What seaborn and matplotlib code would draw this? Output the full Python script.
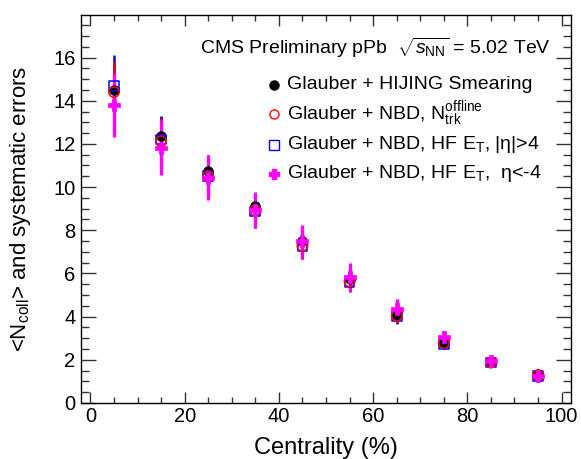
import matplotlib
matplotlib.use("Agg")
import matplotlib.pyplot as plt
import seaborn as sns
import pandas as pd
from matplotlib.ticker import MultipleLocator

# Centrality bins (bin centres, %)
centrality = [5, 15, 25, 35, 45, 55, 65, 75, 85, 95]

# <Ncoll> for each method and its systematic uncertainty
ncoll_hijing = [14.50, 12.35, 10.73, 9.14, 7.48, 5.74, 4.08, 2.80, 1.89, 1.35]
err_hijing = [1.10, 0.90, 0.75, 0.60, 0.50, 0.40, 0.30, 0.20, 0.13, 0.10]

ncoll_ntrk = [14.40, 12.12, 10.50, 8.92, 7.28, 5.63, 4.04, 2.78, 1.87, 1.28]
err_ntrk = [1.38, 1.10, 0.90, 0.75, 0.60, 0.45, 0.32, 0.22, 0.15, 0.10]

ncoll_hf = [14.67, 12.20, 10.50, 8.87, 7.25, 5.58, 4.00, 2.72, 1.87, 1.25]
err_hf = [1.43, 1.10, 0.96, 0.75, 0.60, 0.45, 0.32, 0.20, 0.13, 0.10]

ncoll_hfm = [13.82, 11.83, 10.43, 8.95, 7.48, 5.85, 4.35, 3.05, 1.95, 1.25]
err_hfm = [1.48, 1.26, 1.05, 0.83, 0.75, 0.65, 0.45, 0.25, 0.13, 0.10]

labels = [
    "Glauber + HIJING Smearing",
    r"Glauber + NBD, N$_{\mathrm{trk}}^{\mathrm{offline}}$",
    r"Glauber + NBD, HF E$_{\mathrm{T}}$, |η|>4",
    r"Glauber + NBD, HF E$_{\mathrm{T}}$,  η<-4",
]
header = r"CMS Preliminary pPb  $\sqrt{s_{\mathrm{NN}}}$ = 5.02 TeV"

sns.set_theme(style="ticks")
plt.rcParams["font.family"] = ["Liberation Sans", "DejaVu Sans"]
plt.rcParams["mathtext.fontset"] = "custom"
plt.rcParams["mathtext.rm"] = "Liberation Sans"
plt.rcParams["mathtext.it"] = "Liberation Sans:italic"
plt.rcParams["mathtext.bf"] = "Liberation Sans:bold"
plt.rcParams["text.color"] = "black"
plt.rcParams["axes.labelcolor"] = "black"

series = [
    (labels[0], ncoll_hijing, err_hijing, "black", "o", "black", 7.0),
    (labels[2], ncoll_hf, err_hf, "blue", "s", "none", 7.0),
    (labels[1], ncoll_ntrk, err_ntrk, "red", "o", "none", 7.5),
    (labels[3], ncoll_hfm, err_hfm, "magenta", "P", "magenta", 8.5),
]

frames = []
for name, vals, errs, *_ in series:
    frames.append(pd.DataFrame({"centrality": centrality, "ncoll": vals,
                                "err": errs, "method": name}))
df = pd.concat(frames, ignore_index=True)

fig = plt.figure(figsize=(5.81, 4.59), dpi=100)
ax = fig.add_axes([81 / 581, 56 / 459, 490 / 581, 388 / 459])

for z, (name, vals, errs, color, marker, face, ms) in enumerate(series):
    sub = df[df["method"] == name]
    ax.errorbar(sub["centrality"], sub["ncoll"], yerr=sub["err"], fmt="none",
                ecolor=color, elinewidth=1.8 if color != "magenta" else 2.4,
                capsize=0, zorder=2 + z)

for z, (name, vals, errs, color, marker, face, ms) in enumerate(series):
    sub = df[df["method"] == name]
    sns.scatterplot(data=sub, x="centrality", y="ncoll", ax=ax,
                    marker=marker, s=ms ** 2,
                    facecolor=face, edgecolor=color,
                    linewidth=1.1 if face == "none" else 0.5,
                    legend=False, zorder=10 + z)

ax.set_xlim(-2, 102)
ax.set_ylim(0, 17.97)
ax.xaxis.set_major_locator(MultipleLocator(20))
ax.xaxis.set_minor_locator(MultipleLocator(5))
ax.yaxis.set_major_locator(MultipleLocator(2))
ax.yaxis.set_minor_locator(MultipleLocator(0.5))
ax.tick_params(axis="both", which="both", direction="in",
               top=True, right=True, width=1.0, color="#333333",
               labelsize=14.5, labelcolor="black")
ax.tick_params(axis="y", which="major", length=11, pad=4)
ax.tick_params(axis="y", which="minor", length=5.5)
ax.tick_params(axis="x", which="major", length=8, pad=3)
ax.tick_params(axis="x", which="minor", length=4)
for sp in ax.spines.values():
    sp.set_color("black")
    sp.set_linewidth(1.0)

ax.set_xlabel("Centrality (%)", fontsize=17, labelpad=4, color="black")
ax.set_ylabel(r"<N$_{\mathrm{coll}}$> and systematic errors", fontsize=16,
              color="black")
ax.yaxis.set_label_coords(-0.098, 0.50)
ax.xaxis.set_label_coords(0.50, -0.088)

ax.text(0.243, 0.915, header, transform=ax.transAxes, fontsize=14,
        ha="left", va="center", color="black")

# Legend rows: key marker + text
legend_rows = [
    (labels[0], "black", "o", "black", 0.820, 6.5),
    (labels[1], "red", "o", "none", 0.745, 6.5),
    (labels[2], "blue", "s", "none", 0.666, 6.5),
    (labels[3], "magenta", "P", "magenta", 0.591, 7.0),
]
for text, color, marker, face, yrow, ms in legend_rows:
    ax.plot([0.393], [yrow], transform=ax.transAxes, marker=marker,
            markersize=ms, markerfacecolor=face, markeredgecolor=color,
            markeredgewidth=1.0, linestyle="none", clip_on=False)
    ax.text(0.420, yrow, text, transform=ax.transAxes, fontsize=14,
            ha="left", va="center", color="black")

fig.savefig("out.png", dpi=100)
